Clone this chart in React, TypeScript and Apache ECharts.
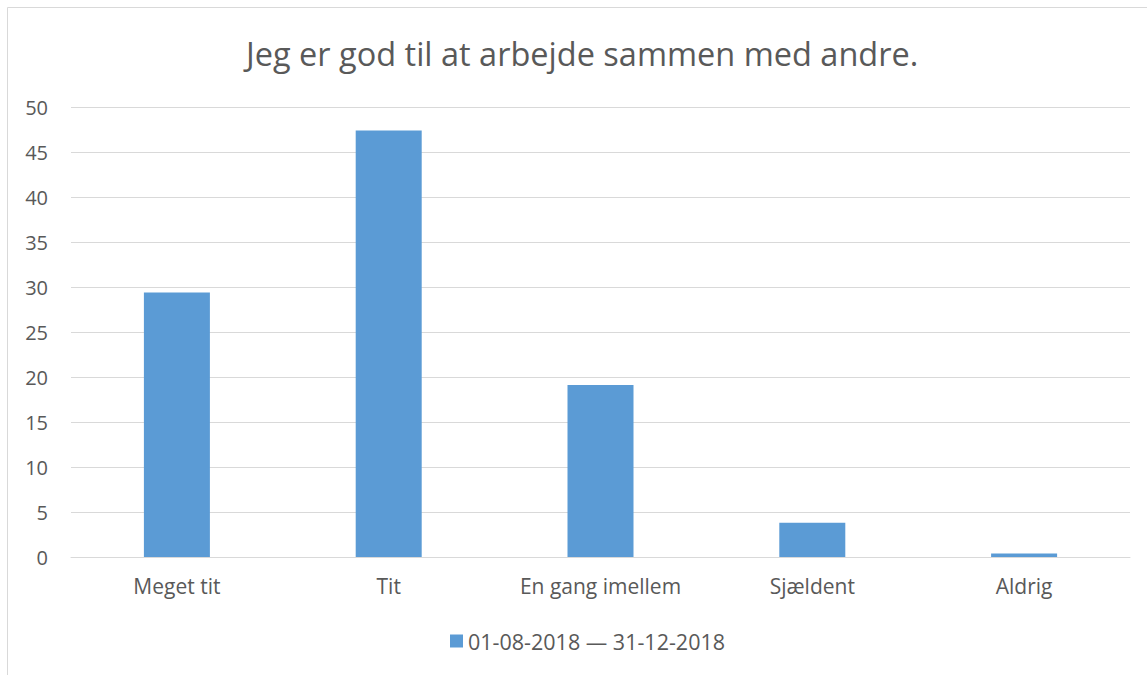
import React, { useEffect, useRef } from "react";
import * as echarts from "echarts";

const titleText = "Jeg er god til at arbejde sammen med andre.";
const categories = ["Meget tit", "Tit", "En gang imellem", "Sjældent", "Aldrig"];
const seriesName = "01-08-2018 — 31-12-2018";
const values = [29.4, 47.4, 19.1, 3.8, 0.4];

export default function App() {
  const ref = useRef<HTMLDivElement>(null);
  useEffect(() => {
    const chart = echarts.init(ref.current!, undefined, { renderer: "svg" });
    const font = "'Open Sans', sans-serif";
    chart.setOption({
      animation: false,
      backgroundColor: "#ffffff",
      textStyle: { fontFamily: font },
      title: {
        text: titleText,
        left: 241,
        top: 32,
        textStyle: { fontFamily: font, fontSize: 32.5, fontWeight: "normal", color: "#595959" },
      },
      graphic: [
        {
          type: "rect",
          shape: { x: 7.5, y: 7.5, width: 1160, height: 700 },
          style: { fill: "none", stroke: "#d9d9d9", lineWidth: 1 },
          silent: true,
        },
      ],
      legend: {
        bottom: 18,
        left: 445,
        itemWidth: 13,
        itemHeight: 13,
        itemGap: 6,
        icon: "rect",
        textStyle: { fontFamily: font, fontSize: 21.5, color: "#595959" },
        data: [seriesName],
      },
      grid: { left: 71, right: 17, top: 107, bottom: 118 },
      xAxis: {
        type: "category",
        data: categories,
        axisLine: { show: true, lineStyle: { color: "#d9d9d9" } },
        axisTick: { show: false },
        axisLabel: { fontFamily: font, fontSize: 21, color: "#595959", margin: 18 },
      },
      yAxis: {
        type: "value",
        min: 0,
        max: 50,
        interval: 5,
        axisLine: { show: false },
        axisTick: { show: false },
        splitLine: { lineStyle: { color: "#d9d9d9" } },
        axisLabel: { fontFamily: font, fontSize: 20, color: "#595959", margin: 23 },
      },
      series: [
        {
          name: seriesName,
          type: "bar",
          data: values,
          barWidth: 66,
          itemStyle: { color: "#5b9bd5" },
        },
      ],
    });
    return () => chart.dispose();
  }, []);
  return (
    <div
      ref={ref}
      style={{ position: "absolute", left: 0, top: 0, width: 1147, height: 675 }}
    />
  );
}
